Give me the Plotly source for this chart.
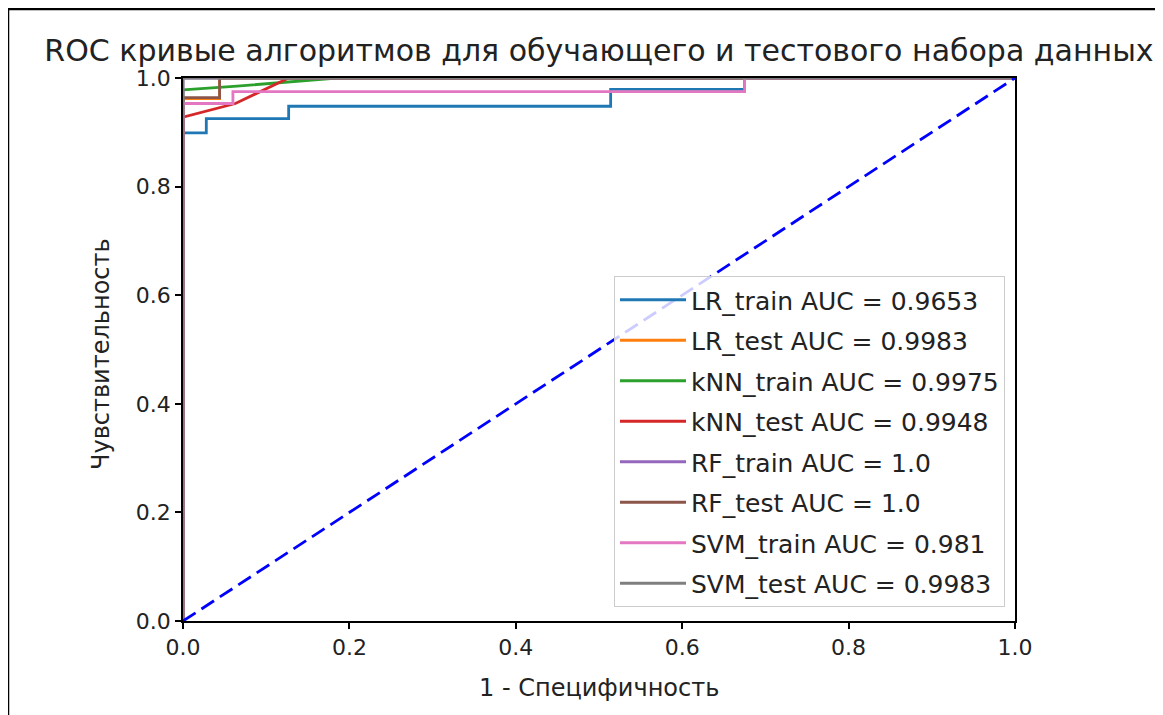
import plotly.graph_objects as go

# ---- data ----
names = ["LR_train AUC = 0.9653", "LR_test AUC = 0.9983", "kNN_train AUC = 0.9975",
         "kNN_test AUC = 0.9948", "RF_train AUC = 1.0", "RF_test AUC = 1.0",
         "SVM_train AUC = 0.981", "SVM_test AUC = 0.9983"]
colors = ["#1f77b4", "#ff7f0e", "#2ca02c", "#d62728", "#9467bd", "#8c564b", "#e377c2", "#7f7f7f"]

lr_train_fpr = [0, 0, 0.028, 0.028, 0.127, 0.127, 0.514, 0.514, 0.675, 0.675, 1.0]
lr_train_tpr = [0, 0.899, 0.899, 0.925, 0.925, 0.948, 0.948, 0.979, 0.979, 1.0, 1.0]
lr_test_fpr = [0, 0, 0.044, 0.044, 1.0]
lr_test_tpr = [0, 0.962, 0.962, 1.0, 1.0]
knn_train_fpr = [0, 0, 0.065, 0.125, 0.185, 1.0]
knn_train_tpr = [0, 0.978, 0.985, 0.993, 1.0, 1.0]
knn_test_fpr = [0, 0, 0.063, 0.127, 1.0]
knn_test_tpr = [0, 0.928, 0.953, 1.0, 1.0]
rf_train_fpr = [0, 0, 1.0]
rf_train_tpr = [0, 1.0, 1.0]
rf_test_fpr = [0, 0, 0.044, 0.044, 1.0]
rf_test_tpr = [0, 0.964, 0.964, 1.0, 1.0]
svm_train_fpr = [0, 0, 0.06, 0.06, 0.675, 0.675, 1.0]
svm_train_tpr = [0, 0.953, 0.953, 0.975, 0.975, 1.0, 1.0]
svm_test_fpr = [0, 0, 1.0]
svm_test_tpr = [0, 1.0, 1.0]

diag_x = [0, 1]
diag_y = [0, 1]
tick_vals = [0.0, 0.2, 0.4, 0.6, 0.8, 1.0]
tick_text = ["0.0", "0.2", "0.4", "0.6", "0.8", "1.0"]

curves = [(lr_train_fpr, lr_train_tpr), (lr_test_fpr, lr_test_tpr),
          (knn_train_fpr, knn_train_tpr), (knn_test_fpr, knn_test_tpr),
          (rf_train_fpr, rf_train_tpr), (rf_test_fpr, rf_test_tpr),
          (svm_train_fpr, svm_train_tpr), (svm_test_fpr, svm_test_tpr)]

FONT = "DejaVu Sans"
fig = go.Figure()
for i, ((fx, ty), name, col) in enumerate(zip(curves, names, colors)):
    fig.add_trace(go.Scatter(x=fx, y=ty, mode="lines", name=name,
                             line=dict(color=col, width=2.8),
                             legendgroup=f"g{i}"))
fig.add_trace(go.Scatter(x=diag_x, y=diag_y, mode="lines", showlegend=False,
                         line=dict(color="#0000ff", width=2.8, dash="15px,7px")))

# page has an 8px body margin; work in page pixels and subtract it
OFF = 8
W, H = 1163 - OFF, 715 - OFF
L, R, T, B = 183 - OFF, 1015 - OFF, 78 - OFF, 621 - OFF
pw, ph = R - L, B - T

def px(xp):
    return (xp - OFF - L) / pw

def py(yp):
    return (B - (yp - OFF)) / ph

axis_common = dict(range=[0, 1], showgrid=False, zeroline=False, showline=True,
                   mirror=True, linecolor="black", linewidth=1.5, ticks="outside",
                   ticklen=6, tickwidth=1.5, tickcolor="black",
                   tickvals=tick_vals, ticktext=tick_text,
                   tickfont=dict(family=FONT, size=22, color="#222"))

fig.update_layout(
    width=W, height=H,
    margin=dict(l=L, r=W - R, t=T, b=H - B),
    paper_bgcolor="white", plot_bgcolor="white",
    xaxis=axis_common, yaxis=axis_common,
    title=dict(text="ROC кривые алгоритмов для обучающего и тестового набора данных",
               font=dict(family=FONT, size=30, color="#222"),
               x=(L + R) / 2 / W, xanchor="center", y=1 - (50 - OFF) / H, yanchor="middle"),
    legend=dict(x=px(1005), y=py(607), xanchor="right", yanchor="bottom",
                bgcolor="rgba(255,255,255,0.8)", bordercolor="#cccccc", borderwidth=1,
                font=dict(family=FONT, size=25, color="#222"),
                tracegroupgap=5, traceorder="grouped", itemwidth=66),
    showlegend=True,
)

fig.add_annotation(text="1 - Специфичность", xref="paper", yref="paper",
                   x=0.5, y=py(688), xanchor="center", yanchor="middle",
                   showarrow=False, font=dict(family=FONT, size=24, color="#222"))
fig.add_annotation(text="Чувствительность", xref="paper", yref="paper",
                   x=px(101), y=py(354), xanchor="center", yanchor="middle",
                   textangle=-90, showarrow=False,
                   font=dict(family=FONT, size=24, color="#222"))

# black frame lines (top and left) of the screenshot
fig.add_shape(type="line", xref="paper", yref="paper", x0=px(0), x1=px(1163),
              y0=py(9), y1=py(9), line=dict(color="black", width=2.5))
fig.add_shape(type="line", xref="paper", yref="paper", x0=px(8), x1=px(8),
              y0=py(9), y1=py(715), line=dict(color="black", width=2.5))

fig.write_html("out.html")
